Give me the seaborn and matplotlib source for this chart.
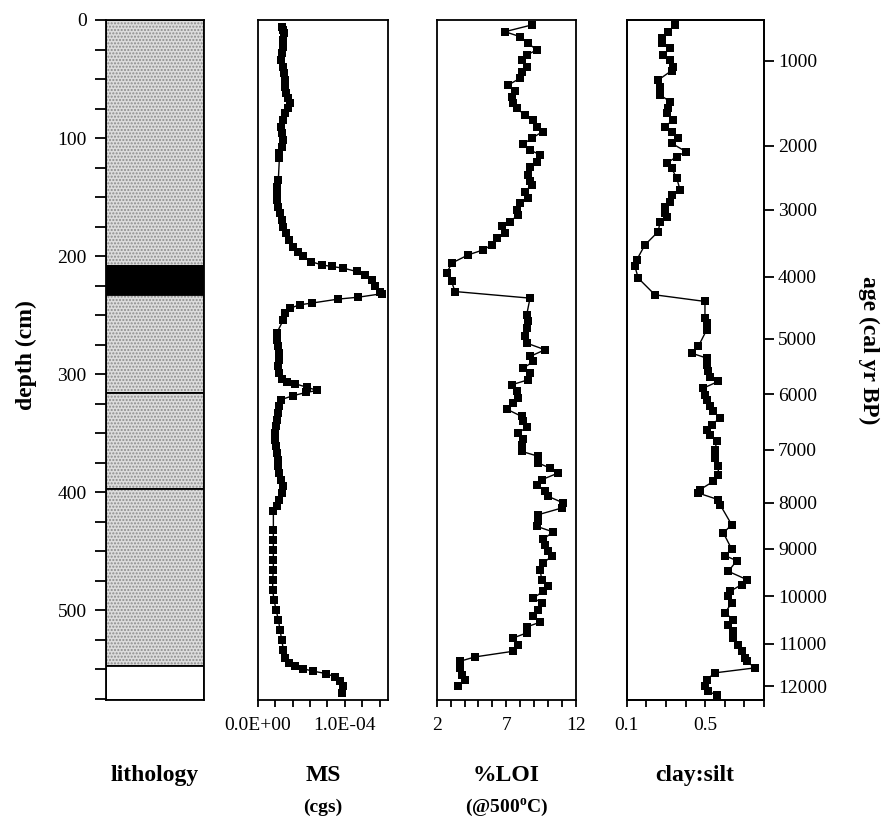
import numpy as np
import pandas as pd
import matplotlib
matplotlib.use("Agg")
import matplotlib.pyplot as plt
from matplotlib.ticker import MultipleLocator, FixedLocator
import seaborn as sns

# ---------------- data ----------------
# lithology units (depth in cm)
lith_top = [0, 208, 233, 316, 397, 547]
lith_bottom = [208, 233, 316, 397, 547, 576]
lith_kind = ["silt", "tephra", "silt", "silt", "silt", "none"]

# magnetic susceptibility (cgs, in units of 1e-5) vs depth (cm)
ms_depth = [5.6, 8.5, 11.3, 17.0, 22.6, 28.2, 33.9, 39.5, 45.2, 50.8, 56.4, 62.1, 66.3, 70.5,
            74.8, 79.0, 84.6, 90.3, 96.0, 101.6, 107.2, 112.9, 117.1, 135.4, 141.1, 146.7,
            152.4, 158.0, 163.7, 169.3, 175.0, 180.6, 186.2, 191.9, 196.1, 200.3, 204.6,
            207.4, 208.8, 210.2, 213.0, 215.9, 220.1, 225.7, 230.0, 231.9, 234.8, 236.4,
            239.8, 241.2, 244.1, 248.3, 254.0, 265.2, 270.9, 276.5, 282.2, 287.8, 293.4,
            299.1, 304.2, 307.0, 308.1, 311.0, 313.8, 315.5, 318.3, 321.7, 327.3, 333.0,
            338.6, 344.2, 349.9, 355.5, 361.2, 366.8, 372.5, 378.1, 383.7, 389.4, 395.0,
            400.7, 406.3, 412.0, 416.2, 431.7, 440.2, 448.6, 457.1, 465.6, 474.0, 482.5,
            491.0, 499.4, 507.9, 516.4, 524.8, 533.3, 540.3, 544.6, 547.4, 549.6, 551.6,
            553.6, 556.4, 560.1, 564.3, 570.0]
ms_e5 = [2.75, 2.87, 3.02, 2.95, 2.87, 2.75, 2.64, 2.95, 3.06, 3.14, 3.14, 3.21, 3.52, 3.71,
         3.52, 3.14, 2.87, 2.64, 2.75, 2.87, 2.75, 2.49, 2.49, 2.37, 2.18, 2.18,
         2.26, 2.37, 2.56, 2.75, 2.95, 3.25, 3.63, 4.09, 4.67, 5.24, 6.08,
         7.35, 8.49, 9.83, 11.36, 12.32, 13.09, 13.47, 14.04, 14.23, 11.56, 9.26,
         6.20, 4.86, 3.71, 3.14, 2.95, 2.18, 2.26, 2.37, 2.49, 2.49, 2.37,
         2.49, 2.75, 3.33, 4.28, 5.62, 6.85, 5.55, 4.02, 2.64, 2.49, 2.37,
         2.26, 2.10, 1.99, 1.99, 2.10, 2.26, 2.37, 2.37, 2.49, 2.64, 2.87,
         2.75, 2.49, 2.18, 1.80, 1.80, 1.80, 1.80, 1.80, 1.80, 1.72, 1.72,
         1.87, 2.10, 2.37, 2.56, 2.75, 2.95, 3.14, 3.63, 4.28, 5.24, 6.39,
         7.84, 8.88, 9.45, 9.83, 9.64]

# loss on ignition (%) vs depth (cm)
loi_depth = [4.2, 9.9, 14.1, 19.8, 25.4, 29.6, 33.9, 39.5, 43.7, 49.4, 55.0, 59.8, 64.9, 70.5,
             74.8, 80.4, 84.6, 90.3, 94.5, 100.2, 105.0, 110.0, 114.3, 119.9, 124.2, 131.2,
             136.8, 139.7, 145.3, 150.9, 155.2, 160.8, 165.1, 170.7, 174.9, 180.6, 184.8,
             190.5, 194.7, 198.9, 206.0, 214.5, 221.5, 230.0, 235.6, 249.7, 255.3, 261.0,
             268.0, 273.7, 279.3, 285.0, 289.2, 294.9, 299.1, 304.7, 309.0, 314.6, 320.2,
             324.5, 329.6, 335.8, 340.0, 344.8, 349.9, 355.0, 359.8, 365.4, 369.6, 375.3,
             379.5, 383.7, 389.4, 393.6, 399.3, 403.5, 409.1, 413.4, 419.0, 424.7, 428.9,
             433.7, 439.6, 444.4, 450.0, 454.3, 459.9, 465.6, 474.0, 479.7, 483.9, 489.6,
             493.8, 499.4, 504.5, 510.1, 514.1, 519.2, 523.4, 529.1, 534.7, 539.5, 543.2,
             548.8, 554.5, 559.2, 564.3]
loi_pct = [8.82, 6.90, 7.98, 8.58, 9.18, 8.46, 8.10, 8.46, 8.10, 7.98, 7.14, 7.62, 7.38, 7.50,
           7.74, 8.34, 8.94, 9.18, 9.61, 8.82, 8.22, 8.70, 9.42, 9.18, 8.70, 8.58,
           8.70, 8.82, 8.34, 8.58, 7.98, 7.74, 7.86, 7.26, 6.66, 6.90, 6.30,
           5.95, 5.35, 4.27, 3.07, 2.72, 3.07, 3.31, 8.70, 8.46, 8.58, 8.46,
           8.34, 8.46, 9.77, 8.70, 8.94, 8.22, 8.70, 8.58, 7.38, 7.74, 7.86,
           7.50, 7.02, 8.10, 8.22, 8.46, 7.86, 8.22, 8.10, 8.10, 9.30, 9.30,
           10.13, 10.73, 9.54, 9.18, 9.77, 10.01, 11.09, 10.97, 9.30, 9.30, 9.18,
           10.37, 9.65, 9.77, 10.01, 10.25, 9.65, 9.42, 9.54, 10.01, 9.65, 8.94,
           9.54, 9.30, 8.94, 9.42, 8.46, 8.46, 7.50, 7.86, 7.50, 4.75, 3.67,
           3.67, 3.79, 4.03, 3.55]

# clay:silt ratio vs depth (cm)
cs_depth = [4.2, 9.9, 15.5, 19.8, 24.0, 29.6, 33.9, 39.5, 42.9, 50.8, 56.4, 63.5, 69.1, 74.8,
            79.0, 84.6, 90.3, 94.5, 100.2, 104.4, 111.5, 115.7, 121.3, 125.6, 134.0, 143.9,
            148.1, 153.8, 158.0, 163.7, 166.5, 170.7, 179.2, 190.5, 203.2, 208.8, 218.7,
            232.8, 238.4, 252.5, 256.8, 262.4, 276.5, 282.2, 286.4, 292.0, 297.7, 302.5,
            306.1, 311.8, 317.4, 321.7, 327.3, 331.5, 337.2, 342.8, 347.1, 351.3, 357.0,
            364.0, 371.0, 378.1, 385.1, 390.8, 397.8, 400.7, 406.3, 410.5, 427.5, 434.5,
            448.1, 453.7, 458.0, 467.0, 474.0, 478.3, 483.9, 488.1, 493.8, 502.3, 507.9,
            512.1, 517.8, 523.4, 529.1, 534.7, 540.3, 543.2, 548.8, 553.0, 558.7, 564.3,
            568.6, 572.0]
cs_ratio = [0.346, 0.312, 0.278, 0.278, 0.321, 0.287, 0.321, 0.338, 0.329, 0.261, 0.270, 0.270,
            0.321, 0.312, 0.304, 0.338, 0.295, 0.329, 0.363, 0.329, 0.402, 0.355, 0.304,
            0.329, 0.355, 0.372, 0.329, 0.321, 0.295, 0.295, 0.304, 0.270, 0.261, 0.193,
            0.151, 0.142, 0.159, 0.244, 0.499, 0.499, 0.508, 0.508, 0.465, 0.431, 0.508,
            0.508, 0.516, 0.525, 0.567, 0.491, 0.499, 0.508, 0.525, 0.542, 0.576, 0.533,
            0.508, 0.525, 0.559, 0.550, 0.550, 0.567, 0.567, 0.542, 0.474, 0.465, 0.567,
            0.576, 0.635, 0.593, 0.635, 0.601, 0.661, 0.618, 0.712, 0.686, 0.627, 0.618,
            0.635, 0.601, 0.644, 0.618, 0.644, 0.644, 0.669, 0.686, 0.703, 0.712, 0.754,
            0.550, 0.508, 0.499, 0.516, 0.559]

# age scale (cal yr BP) and depth (cm) at which each age tick sits
age_labels = [1000, 2000, 3000, 4000, 5000, 6000, 7000, 8000, 9000, 10000, 11000, 12000]
age_depth = [34.7, 106.4, 160.8, 217.3, 270.0, 317.0, 364.0, 409.1, 448.0, 488.1, 528.2, 564.3]

depth_ticks = [0, 100, 200, 300, 400, 500]

# ---------------- style ----------------
sns.set_theme(style="ticks")
plt.rcParams["font.family"] = ["Liberation Serif", "DejaVu Serif"]
plt.rcParams["mathtext.fontset"] = "custom"
plt.rcParams["mathtext.rm"] = "Liberation Serif"
plt.rcParams["mathtext.bf"] = "Liberation Serif:bold"
plt.rcParams["axes.linewidth"] = 1.3
plt.rcParams["axes.edgecolor"] = "black"
plt.rcParams["text.color"] = "black"
plt.rcParams["axes.labelcolor"] = "black"
plt.rcParams["xtick.color"] = "black"
plt.rcParams["ytick.color"] = "black"
plt.rcParams["xtick.labelcolor"] = "black"
plt.rcParams["ytick.labelcolor"] = "black"

W, H = 883, 819
fig = plt.figure(figsize=(W / 100, H / 100), dpi=100)
fig.patch.set_facecolor("white")

top_px, bot_px = 20, 700
def axes_at(x0, x1):
    return fig.add_axes([x0 / W, 1 - bot_px / H, (x1 - x0) / W, (bot_px - top_px) / H])

ax_l = axes_at(106, 204)
ax_ms = axes_at(257.7, 388.3)
ax_loi = axes_at(436.7, 576)
ax_cs = axes_at(626.7, 764)

YMAX = 576
TICK_FS = 14

for ax in (ax_l, ax_ms, ax_loi, ax_cs):
    ax.set_ylim(YMAX, 0)
    ax.set_facecolor("white")
    for s in ax.spines.values():
        s.set_visible(True)
        s.set_linewidth(1.3)
        s.set_color("black")

# ---- lithology ----
lith_df = pd.DataFrame({"top": lith_top, "bottom": lith_bottom, "kind": lith_kind})
lith_df["thick"] = lith_df["bottom"] - lith_df["top"]
lith_df["mid"] = (lith_df["top"] + lith_df["bottom"]) / 2
face = {"silt": "#dcdcdc", "tephra": "black", "none": "white"}
hatch = {"silt": ".....", "tephra": None, "none": None}
for _, r in lith_df.iterrows():
    ax_l.barh(r["mid"], 1, height=r["thick"], left=0, color=face[r["kind"]],
              hatch=hatch[r["kind"]], edgecolor="#8c8c8c", linewidth=0)
    ax_l.barh(r["mid"], 1, height=r["thick"], left=0, fill=False,
              edgecolor="black", linewidth=1.3)
ax_l.set_xlim(0, 1)
ax_l.set_xticks([])
ax_l.yaxis.set_major_locator(FixedLocator(depth_ticks))
ax_l.yaxis.set_minor_locator(MultipleLocator(25))
ax_l.set_yticklabels([str(t) for t in depth_ticks], fontsize=TICK_FS)
ax_l.tick_params(axis="y", which="both", direction="out", length=8, width=1.3, pad=6,
                 left=True, right=False)

# ---- profiles ----
line_kw = dict(color="black", marker="s", markersize=6, markeredgewidth=0,
               linewidth=1.0, sort=False, estimator=None, legend=False)

ms_df = pd.DataFrame({"depth": ms_depth, "ms": np.array(ms_e5) * 1e-5})
sns.lineplot(data=ms_df, x="ms", y="depth", ax=ax_ms, orient="y", **line_kw)
ax_ms.set_xlim(0, 1.5e-4)
ax_ms.set_xticks([0, 1e-4])
ax_ms.set_xticklabels(["0.0E+00", "1.0E-04"], fontsize=TICK_FS)
ax_ms.xaxis.set_minor_locator(MultipleLocator(2e-5))

loi_df = pd.DataFrame({"depth": loi_depth, "loi": loi_pct})
sns.lineplot(data=loi_df, x="loi", y="depth", ax=ax_loi, orient="y", **line_kw)
ax_loi.set_xlim(2, 12)
ax_loi.set_xticks([2, 7, 12])
ax_loi.set_xticklabels(["2", "7", "12"], fontsize=TICK_FS)
ax_loi.xaxis.set_minor_locator(MultipleLocator(1))

cs_df = pd.DataFrame({"depth": cs_depth, "cs": cs_ratio})
sns.lineplot(data=cs_df, x="cs", y="depth", ax=ax_cs, orient="y", **line_kw)
ax_cs.set_xlim(0.1, 0.8)
ax_cs.set_xticks([0.1, 0.5])
ax_cs.set_xticklabels(["0.1", "0.5"], fontsize=TICK_FS)
ax_cs.xaxis.set_minor_locator(MultipleLocator(0.1))

for ax in (ax_ms, ax_loi, ax_cs):
    ax.set_ylim(YMAX, 0)
    ax.set_yticks([])
    ax.set_xlabel("")
    ax.set_ylabel("")
    ax.tick_params(axis="x", which="both", direction="out", length=5, width=1.3, pad=7,
                   bottom=True, top=False)

# ---- age axis ----
ax_age = ax_cs.twinx()
ax_age.set_ylim(YMAX, 0)
ax_age.set_yticks(age_depth)
ax_age.set_yticklabels([str(a) for a in age_labels], fontsize=TICK_FS)
ax_age.tick_params(axis="y", direction="out", length=7, width=1.3, pad=3)
for s in ax_age.spines.values():
    s.set_linewidth(1.3)

# ---- labels ----
def fy(px):
    return 1 - px / H

bold = dict(fontweight="bold", ha="center", va="baseline", color="black")
fig.text(155 / W, fy(781), "lithology", fontsize=17, **bold)
fig.text(323 / W, fy(781), "MS", fontsize=17, **bold)
fig.text(323 / W, fy(812), "(cgs)", fontsize=14, **bold)
fig.text(506.5 / W, fy(781), "%LOI", fontsize=17, **bold)
fig.text(506.5 / W, fy(812), r"(@500$^{\mathbf{o}}$C)", fontsize=14, **bold)
fig.text(695 / W, fy(781), "clay:silt", fontsize=17, **bold)

fig.text(26 / W, fy(355), "depth (cm)", fontsize=17, fontweight="bold", color="black",
         rotation=90, ha="center", va="center")
fig.text(869 / W, fy(350), "age (cal yr BP)", fontsize=17, fontweight="bold", color="black",
         rotation=270, ha="center", va="center")

fig.savefig("out.png", dpi=100, facecolor="white")
